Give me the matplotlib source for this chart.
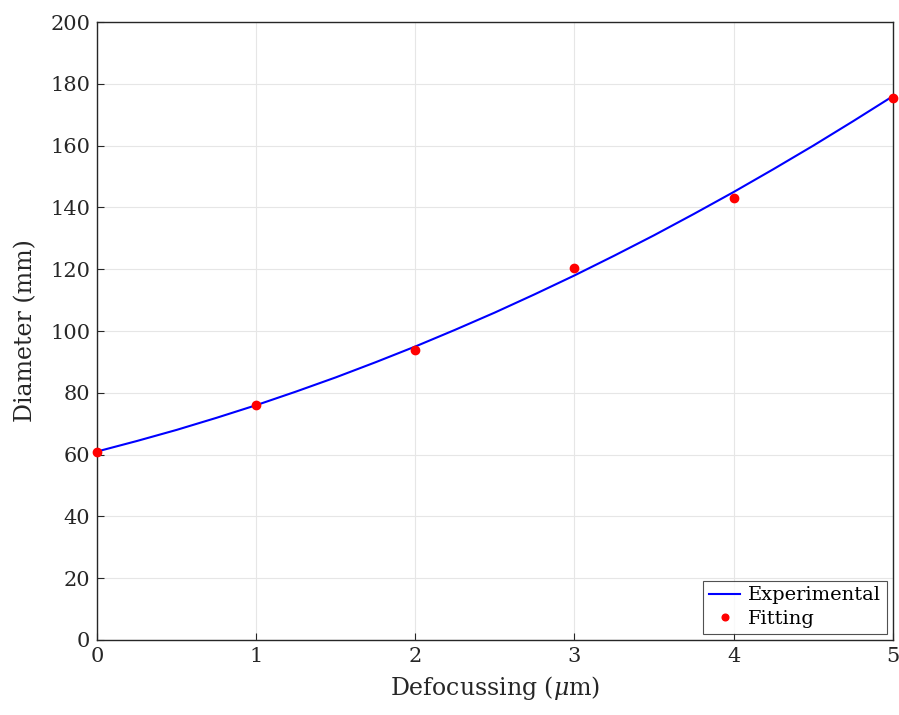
import numpy as np
import matplotlib
matplotlib.use("Agg")
import matplotlib.pyplot as plt

# Curve (every 0.25 um)
x_line = [0, 0.25, 0.5, 0.75, 1, 1.25, 1.5, 1.75, 2, 2.25, 2.5,
          2.75, 3, 3.25, 3.5, 3.75, 4, 4.25, 4.5, 4.75, 5]
y_line = [61, 64.4, 68, 71.9, 76, 80.4, 85, 89.9, 95, 100.4, 106,
          111.9, 118, 124.4, 131, 137.9, 145, 152.4, 160, 167.9, 176]

# Red points
x_pts = [0, 1, 2, 3, 4, 5]
y_pts = [61, 76, 94, 120.5, 143, 175.5]

plt.rcParams['font.family'] = ['DejaVu Serif']
plt.rcParams['mathtext.fontset'] = 'dejavuserif'

fig = plt.figure(figsize=(8.99, 7.15), dpi=100)
ax = fig.add_axes([0.108, 0.105, 0.885, 0.864])

ax.plot(x_line, y_line, color='blue', lw=1.5, label='Experimental')
ax.plot(x_pts, y_pts, 'o', color='red', ms=6, label='Fitting', clip_on=False, zorder=5)

ax.set_xlim(0, 5)
ax.set_ylim(0, 200)
ax.set_xticks(range(0, 6))
ax.set_yticks(range(0, 201, 20))
ax.grid(True, color='#e6e6e6', lw=0.8)
ax.set_axisbelow(True)
ax.tick_params(direction='in', length=5, labelsize=15, colors='#262626', pad=5)
for s in ax.spines.values():
    s.set_color('#262626')
    s.set_linewidth(1.0)

ax.set_xlabel(r'Defocussing ($\mu$m)', fontsize=17, color='#262626', labelpad=6)
ax.set_ylabel('Diameter (mm)', fontsize=17, color='#262626', labelpad=9)

leg = ax.legend(loc='lower right', fontsize=14, frameon=True, fancybox=False,
                edgecolor='#262626', borderaxespad=0.3, handlelength=1.6,
                handletextpad=0.4, borderpad=0.3, labelspacing=0.3, markerscale=0.8)
leg.get_frame().set_linewidth(0.8)

fig.savefig('out.png', dpi=100)
